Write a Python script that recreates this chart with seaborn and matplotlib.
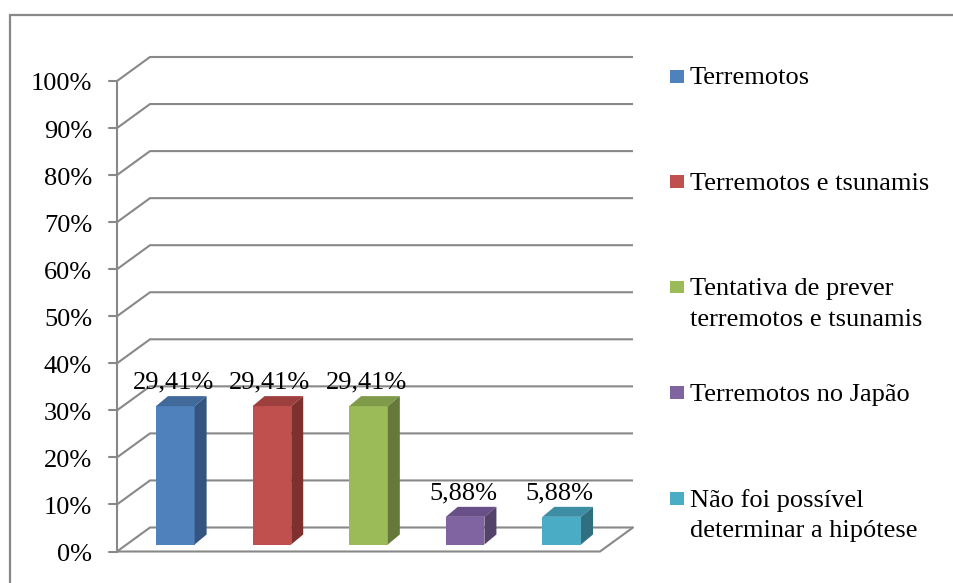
import matplotlib
matplotlib.use("Agg")
import matplotlib.pyplot as plt
import matplotlib.transforms as mtransforms
from matplotlib.patches import Polygon, Rectangle
from matplotlib.lines import Line2D
import seaborn as sns
import pandas as pd

# --- data -------------------------------------------------------------
categories = [
    "Terremotos",
    "Terremotos e tsunamis",
    "Tentativa de prever\nterremotos e tsunamis",
    "Terremotos no Japão",
    "Não foi possível\ndeterminar a hipótese",
]
values = [29.41, 29.41, 29.41, 5.88, 5.88]
value_labels = ["29,41%", "29,41%", "29,41%", "5,88%", "5,88%"]
tick_values = [0, 10, 20, 30, 40, 50, 60, 70, 80, 90, 100]
tick_labels = ["0%", "10%", "20%", "30%", "40%", "50%", "60%", "70%", "80%", "90%", "100%"]

front_colors = ["#4F81BD", "#C0504D", "#9BBB59", "#8064A2", "#4BACC6"]
top_colors = ["#41699A", "#9C3F3D", "#7F9A49", "#694F87", "#3D8EA4"]
side_colors = ["#33557F", "#7E302F", "#66793A", "#54426B", "#2F6F80"]

# --- figure setup -----------------------------------------------------
W, H, DPI = 954, 583, 100
sns.set_style("white")
plt.rcParams["font.family"] = ["Liberation Serif", "DejaVu Serif"]
FS = 19

fig = plt.figure(figsize=(W / DPI, H / DPI), dpi=DPI)
fig.patch.set_facecolor("white")

# front plane of the 3D box, in pixels
LEFT, RIGHT, TOP, BOTTOM = 117, 600, 81, 551.5
ax = fig.add_axes([LEFT / W, (H - BOTTOM) / H, (RIGHT - LEFT) / W, (BOTTOM - TOP) / H])
ax.set_xlim(-0.5, len(categories) - 0.5)
ax.set_ylim(0, 100)
ax.axis("off")

px_x = (RIGHT - LEFT) / len(categories)   # pixels per category unit
px_y = (BOTTOM - TOP) / 100.0             # pixels per percent


def shift(dx_px, dy_px):
    return ax.transData + mtransforms.ScaledTranslation(dx_px / DPI, dy_px / DPI, fig.dpi_scale_trans)


GRID = "#888888"
LW = 1.5
x0, x1 = -0.5, len(categories) - 0.5
Dx, Dy = 33 / px_x, 24 / px_y      # depth of the box
tick_len = 8 / px_x

# walls: side-wall diagonals and back-wall gridlines
for t in tick_values:
    ax.plot([x0, x0 + Dx, x1 + Dx], [t, t + Dy, t + Dy], color=GRID, lw=LW,
            clip_on=False, zorder=1, solid_capstyle="butt")
    ax.plot([x0 - tick_len, x0], [t, t], color=GRID, lw=LW, clip_on=False, zorder=1)

# floor front edge and right edge
ax.plot([x0, x1, x1 + Dx], [0, 0, Dy], color=GRID, lw=LW, clip_on=False, zorder=1)
# front vertical axis
ax.plot([x0, x0], [0, 100], color=GRID, lw=LW, clip_on=False, zorder=1)

# tick labels
for t, lab in zip(tick_values, tick_labels):
    ax.text(x0, t, lab, ha="right", va="baseline", fontsize=FS, color="black",
            transform=shift(-25, -9.5), clip_on=False)

# --- bars -------------------------------------------------------------
df = pd.DataFrame({"categoria": categories, "valor": values})
sns.barplot(data=df, x="categoria", y="valor", hue="categoria", palette=front_colors,
            width=0.4, saturation=1, legend=False, ax=ax, zorder=3)
ax.set_xlim(x0, x1)
ax.set_ylim(0, 100)
ax.axis("off")

BAR_DX, BAR_DY = 10, 7          # bars sit slightly behind the front plane
bar_tr = shift(BAR_DX, BAR_DY)
ddx, ddy = 12 / px_x, 10 / px_y  # bar depth

bars = list(ax.patches)
for i, p in enumerate(bars):
    p.set_transform(bar_tr)
    p.set_clip_on(False)
    p.set_edgecolor("none")
    bx, bw, bh = p.get_x(), p.get_width(), p.get_height()
    top = Polygon([(bx, bh), (bx + bw, bh), (bx + bw + ddx, bh + ddy), (bx + ddx, bh + ddy)],
                  closed=True, facecolor=top_colors[i], edgecolor="none",
                  transform=bar_tr, clip_on=False, zorder=3)
    side = Polygon([(bx + bw, 0), (bx + bw + ddx, ddy), (bx + bw + ddx, bh + ddy), (bx + bw, bh)],
                   closed=True, facecolor=side_colors[i], edgecolor="none",
                   transform=bar_tr, clip_on=False, zorder=3)
    ax.add_patch(top)
    ax.add_patch(side)
    ax.text(bx + bw / 2, bh, value_labels[i], ha="center", va="baseline", fontsize=FS,
            color="black", transform=shift(BAR_DX - 2, BAR_DY + 17.5), clip_on=False, zorder=4)

# --- legend -----------------------------------------------------------
def fx(px):
    return px / W


def fy(py):
    return 1 - py / H


first_baseline, step, line_gap = 84.5, 105.5, 30
for i, lab in enumerate(categories):
    base = first_baseline + i * step
    fig.add_artist(Rectangle((fx(670), fy(base - 2)), 14 / W, 13 / H,
                             transform=fig.transFigure, facecolor=front_colors[i],
                             edgecolor="none"))
    for j, line in enumerate(lab.split("\n")):
        fig.text(fx(690), fy(base + j * line_gap), line, ha="left", va="baseline",
                 fontsize=FS, color="black")

# outer chart border (top and left edges fall inside the image)
fig.add_artist(Line2D([fx(10.5), fx(W + 5)], [fy(15), fy(15)], transform=fig.transFigure,
                      color=GRID, lw=1.6))
fig.add_artist(Line2D([fx(10.5), fx(10.5)], [fy(15), fy(H + 5)], transform=fig.transFigure,
                      color=GRID, lw=1.6))

fig.savefig("out.png", dpi=DPI, facecolor="white")
